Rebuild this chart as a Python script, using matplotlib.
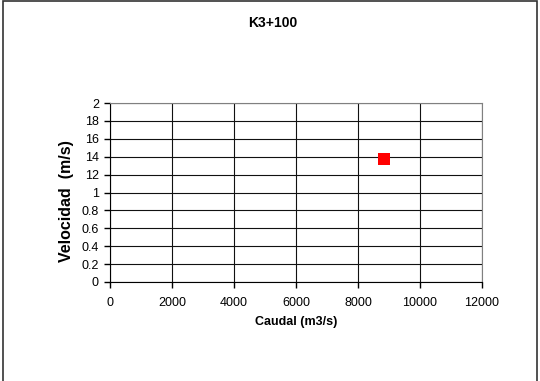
import matplotlib
matplotlib.use("Agg")
import matplotlib.pyplot as plt
from matplotlib.patches import Rectangle

plt.rcParams['font.family'] = ['Liberation Sans', 'DejaVu Sans']

caudal = [8830]
velocidad = [1.37]

x_ticks = [0, 2000, 4000, 6000, 8000, 10000, 12000]
y_ticks = [0, 0.2, 0.4, 0.6, 0.8, 1.0, 1.2, 1.4, 1.6, 1.8, 2.0]
y_labels = ["0", "0.2", "0.4", "0.6", "0.8", "1", "12", "14", "16", "18", "2"]

fig = plt.figure(figsize=(5.4, 3.81), dpi=100)
ax = fig.add_axes([110 / 540, 1 - 282 / 381, 372 / 540, 179 / 381])

ax.plot(caudal, velocidad, 's', color='red', markersize=8.5, markeredgewidth=0, zorder=5)

ax.set_xlim(0, 12000)
ax.set_ylim(0, 2)
ax.set_xticks(x_ticks)
ax.set_xticklabels([str(t) for t in x_ticks])
ax.set_yticks(y_ticks)
ax.set_yticklabels(y_labels)
ax.grid(True, color='#111111', linewidth=0.8)
ax.set_axisbelow(True)
ax.tick_params(labelsize=9, length=4, width=1, color='black', pad=4)
ax.tick_params(axis='x', pad=7)

for side in ['top', 'right']:
    ax.spines[side].set_color('#808080')
for side in ['left', 'bottom']:
    ax.spines[side].set_color('black')

fig.text(273 / 540, 1 - 23 / 381, 'K3+100', fontsize=10, fontweight='bold', ha='center', va='center')

ax.set_xlabel('Caudal (m3/s)', fontsize=9, fontweight='bold', labelpad=5)
fig.text(67 / 540, 1 - 201 / 381, 'Velocidad  (m/s)', fontsize=11.5, fontweight='bold',
         rotation=90, ha='center', va='center')

fig.patches.append(Rectangle((3 / 540, -0.1), 534 / 540, 1.1 - 1 / 381, transform=fig.transFigure,
                             fill=False, edgecolor='#333333', linewidth=1.2))

fig.savefig('out.png', dpi=100)
